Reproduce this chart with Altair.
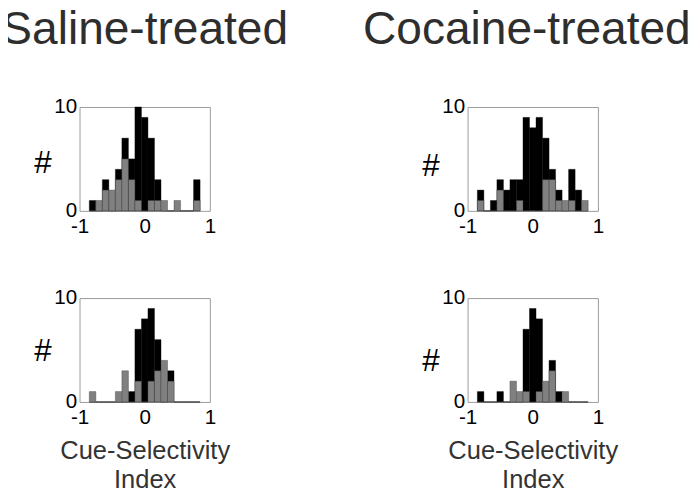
import altair as alt
import pandas as pd

# bin centres of the histograms (width 0.1)
bin_centers = [-0.8, -0.7, -0.6, -0.5, -0.4, -0.3, -0.2, -0.1, 0.0,
               0.1, 0.2, 0.3, 0.4, 0.5, 0.6, 0.7, 0.8]

saline_top_black = [1, 0, 3, 0, 4, 7, 5, 10, 9, 7, 3, 0, 0, 0, 0, 0, 3]
saline_top_gray = [0, 1, 2, 2, 3, 5, 3, 1, 0, 1, 1, 1, 0, 1, 0, 0, 1]

cocaine_top_black = [2, 0, 1, 3, 2, 3, 3, 9, 8, 9, 7, 4, 2, 0, 4, 2, 0]
cocaine_top_gray = [1, 0, 0, 2, 0, 0, 1, 0, 0, 0, 3, 3, 1, 1, 1, 0, 1]

saline_bot_black = [0, 0, 0, 0, 0, 0, 1, 7, 8, 9, 6, 0, 3, 0, 0, 0, 0]
saline_bot_gray = [1, 0, 0, 0, 1, 3, 0, 2, 0, 2, 3, 4, 2, 0, 0, 0, 0]

cocaine_bot_black = [1, 0, 0, 1, 0, 0, 0, 7, 9, 8, 0, 4, 1, 0, 0, 0, 0]
cocaine_bot_gray = [0, 0, 0, 0, 0, 2, 1, 1, 0, 1, 2, 3, 0, 1, 0, 0, 0]

x_ticks = [-1, 0, 1]
y_ticks = [0, 10]
col_titles = ["Saline-treated", "Cocaine-treated"]
x_title = ["Cue-Selectivity", "Index"]
y_title = "#"

FONT = "Liberation Sans"
BIN_W = 0.1
PW, PH = 133, 106


def panel(black, gray, title=None, xlab=False, title_dx=0, ytitle_y=55):
    df = pd.DataFrame({
        "lo": [round(c - BIN_W / 2, 3) for c in bin_centers],
        "hi": [round(c + BIN_W / 2, 3) for c in bin_centers],
        "black": black,
        "gray": gray,
    })
    xaxis_kw = dict(values=x_ticks, labelFontSize=21, labelPadding=5,
                    labelFlush=False, ticks=False, domain=False, grid=False,
                    labelFont=FONT, labelColor="black",
                    labelExpr="datum.value < 0 ? '-' + abs(datum.value) : '' + datum.value")
    if xlab:
        xaxis_kw.update(title=x_title, titleFontSize=26, titleFont=FONT,
                        titleFontWeight="normal", titleColor="#333333",
                        titleBaseline="alphabetic", titleY=58, titleLineHeight=29)
    else:
        xaxis_kw.update(title="")
    xenc = alt.X("lo:Q", scale=alt.Scale(domain=[-1, 1], nice=False, zero=False),
                 axis=alt.Axis(**xaxis_kw))
    yaxis = alt.Axis(values=y_ticks, labelFontSize=21, labelPadding=3,
                     labelFlush=False, ticks=False, domain=False, grid=False,
                     labelFont=FONT, labelColor="black",
                     title=y_title, titleAngle=0, titleFontSize=32,
                     titleFont=FONT, titleFontWeight="normal", titleColor="black",
                     titleAlign="right", titleBaseline="middle",
                     titleX=-29, titleY=ytitle_y)
    yscale = alt.Scale(domain=[0, 10], nice=False)
    base = alt.Chart(df)
    b = base.mark_rect(color="black", stroke="black", strokeWidth=0.4).encode(
        x=xenc, x2="hi:Q", y=alt.Y("black:Q", scale=yscale, axis=yaxis),
        y2=alt.datum(0))
    g = base.mark_rect(color="#808080", stroke="#3c3c3c", strokeWidth=0.4).encode(
        x=xenc, x2="hi:Q", y=alt.Y("gray:Q", scale=yscale, axis=yaxis),
        y2=alt.datum(0))
    props = dict(width=PW, height=PH)
    if title:
        props["title"] = alt.TitleParams(text=title, fontSize=47, font=FONT,
                                         fontWeight="normal", color="#2e2e2e",
                                         anchor="middle", baseline="alphabetic",
                                         offset=6, dx=title_dx)
    return alt.layer(b, g).properties(**props)


p1 = panel(saline_top_black, saline_top_gray, title=col_titles[0], ytitle_y=57)
p2 = panel(cocaine_top_black, cocaine_top_gray, title=col_titles[1], title_dx=-6, ytitle_y=60)
p3 = panel(saline_bot_black, saline_bot_gray, xlab=True, ytitle_y=54)
p4 = panel(cocaine_bot_black, cocaine_bot_gray, xlab=True, ytitle_y=64)

chart = alt.concat(p1, p2, p3, p4, columns=2,
                   spacing={"row": 89, "column": 263},
                   bounds="flush").properties(
    padding={"left": -8, "top": -7, "right": 0, "bottom": 0},
    background="white",
).configure_view(stroke="#9a9a9a", strokeWidth=1)

chart.save("out.html", embed_options={"renderer": "svg", "actions": False})
